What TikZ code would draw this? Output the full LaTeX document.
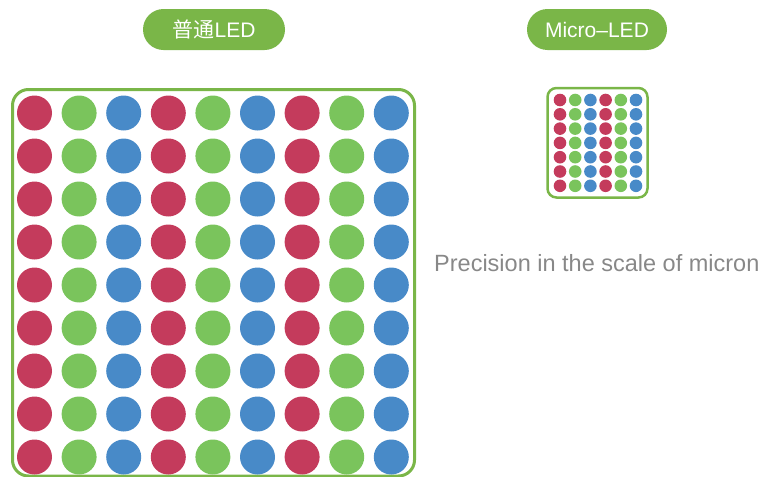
\documentclass[tikz,border=0pt]{standalone}
\usepackage{fontspec}
\setmainfont{Liberation Sans}
\newfontfamily\cjk{Noto Sans CJK SC}

\definecolor{ledred}{RGB}{196,59,92}
\definecolor{ledgreen}{RGB}{122,196,92}
\definecolor{ledblue}{RGB}{72,138,200}
\definecolor{framegreen}{RGB}{122,182,72}
\definecolor{labelgray}{RGB}{136,136,136}

\begin{document}
\begin{tikzpicture}[
    x=1pt, y=-1pt,
    pill/.style={fill=framegreen, text=white, rounded corners=20.5pt,
                 minimum height=41pt, inner sep=0pt,
                 font=\fontsize{21}{25}\selectfont},
    frame/.style={draw=framegreen, line width=3pt},
    caption/.style={text=labelgray, inner sep=0pt,
                    font=\fontsize{23.5}{28}\selectfont}
]
    \useasboundingbox (0,0) rectangle (764,477);

    \node[pill, minimum width=142pt] (normal) at (214,29.5) {{\cjk 普通}LED};
    \node[pill, minimum width=140pt] (micro) at (597,29.5) {Micro–LED};

    % ordinary LED panel
    \draw[frame, rounded corners=16pt] (12.5,89.5) rectangle (414.5,476);
    \foreach \k/\c in {0/ledred, 1/ledgreen, 2/ledblue}
        \foreach \g in {0,1,2}
            \foreach \r in {0,...,8}
                \fill[\c] ({34.5+44.6*(3*\g+\k)},{113+43*\r}) circle (17.5pt);

    % micro LED panel
    \draw[frame, line width=2.5pt, rounded corners=9pt] (547.5,88) rectangle (647.5,197.5);
    \foreach \k/\c in {0/ledred, 1/ledgreen, 2/ledblue}
        \foreach \g in {0,1}
            \foreach \r in {0,...,6}
                \fill[\c] ({560+15.2*(3*\g+\k)},{100+14.3*\r}) circle (6.3pt);

    \node[caption, anchor=base west] (scale) at (434,271) {Precision in the scale of micron};
\end{tikzpicture}
\end{document}
